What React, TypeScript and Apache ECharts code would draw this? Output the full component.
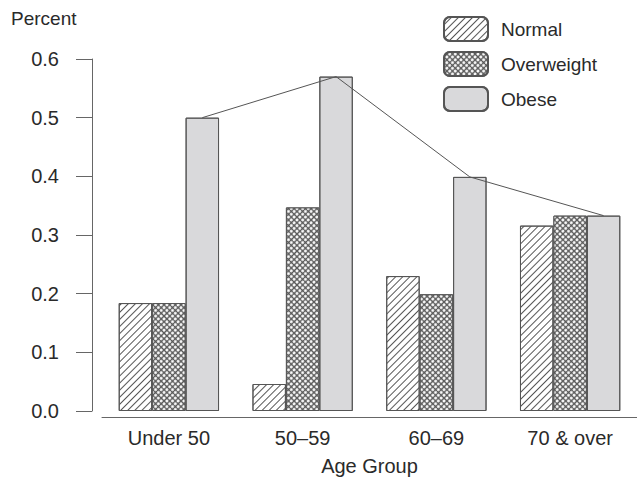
import React, { useEffect, useRef } from "react";
import * as echarts from "echarts";

const categories = ["Under 50", "50–59", "60–69", "70 & over"];
const normalValues = [0.184, 0.046, 0.23, 0.316];
const overweightValues = [0.184, 0.347, 0.199, 0.333];
const obeseValues = [0.5, 0.57, 0.399, 0.333];

const FONT = "'Liberation Sans', Arial, sans-serif";
const TEXT = "#2a2a2a";
const AXIS = "#666";
const EDGE = "#555";
// three bars per category, gap of one bar width → each bar is 1/4 of category
const BAR_GAP = 0.25;
const BAR_FRAC = (1 - BAR_GAP) / 3;
const obeseOffset = BAR_FRAC; // obese bar centre relative to category centre

export default function App() {
  const ref = useRef<HTMLDivElement>(null);
  useEffect(() => {
    const chart = echarts.init(ref.current!, undefined, { renderer: "svg" });
    chart.setOption({
      animation: false,
      aria: { enabled: true, decal: { show: true } },
      textStyle: { fontFamily: FONT },
      grid: { left: 102, top: 59, width: 544, height: 352, containLabel: false },
      graphic: [
        {
          type: "text",
          left: 11,
          top: 9,
          style: { text: "Percent", fontSize: 19, fontFamily: FONT, fill: TEXT },
        },
      ],
      legend: {
        orient: "vertical",
        left: 443,
        top: 16,
        padding: 0,
        itemWidth: 44,
        itemHeight: 24,
        itemGap: 9,
        data: ["Normal", "Overweight", "Obese"],
        textStyle: { fontSize: 19, color: TEXT, fontFamily: FONT, padding: [0, 0, 0, 8] },
      },
      xAxis: [
        {
          type: "category",
          data: categories,
          offset: 6,
          axisLine: { onZero: false, lineStyle: { color: AXIS, width: 1 } },
          axisTick: { alignWithLabel: true, length: 10, lineStyle: { color: AXIS } },
          axisLabel: { fontSize: 20, color: TEXT, margin: 11, fontFamily: FONT },
          name: "Age Group",
          nameLocation: "middle",
          nameGap: 39,
          nameTextStyle: { fontSize: 20, color: TEXT, fontFamily: FONT },
        },
        { type: "value", min: -0.5, max: 3.5, show: false },
      ],
      yAxis: {
        type: "value",
        min: 0,
        max: 0.6,
        interval: 0.1,
        offset: 10,
        splitLine: { show: false },
        axisLine: { show: true, onZero: false, lineStyle: { color: AXIS, width: 1 } },
        axisTick: { show: true, length: 16, lineStyle: { color: AXIS } },
        axisLabel: {
          fontSize: 20,
          color: TEXT,
          margin: 33,
          fontFamily: FONT,
          formatter: (v: number) => v.toFixed(1),
        },
      },
      series: [
        {
          name: "Normal",
          type: "bar",
          data: normalValues,
          barGap: "0%",
          barCategoryGap: BAR_GAP * 100 + "%",
          itemStyle: {
            color: "#ffffff",
            borderColor: EDGE,
            borderWidth: 1,
            decal: {
              symbol: "rect",
              symbolSize: 1,
              color: "#555",
              dashArrayX: [1, 0],
              dashArrayY: [1, 4],
              rotation: -Math.PI / 4,
            },
          },
        },
        {
          name: "Overweight",
          type: "bar",
          data: overweightValues,
          barGap: "0%",
          itemStyle: {
            color: "#5a5a5a",
            borderColor: EDGE,
            borderWidth: 1,
            decal: {
              symbol: "circle",
              symbolSize: 1,
              color: "#ffffff",
              dashArrayX: [3, 1],
              dashArrayY: [3, 1],
              rotation: Math.PI / 4,
            },
          },
        },
        {
          name: "Obese",
          type: "bar",
          data: obeseValues,
          barGap: "0%",
          itemStyle: {
            color: "#d9d9db",
            borderColor: EDGE,
            borderWidth: 1,
            decal: {
              symbol: "rect",
              color: "rgba(0,0,0,0)",
              dashArrayX: [1, 0],
              dashArrayY: [1, 0],
            },
          },
        },
        {
          name: "trend",
          type: "line",
          xAxisIndex: 1,
          data: obeseValues.map((v, i) => [i + obeseOffset, v]),
          symbol: "none",
          lineStyle: { color: "#555", width: 1 },
          z: 5,
        },
      ],
    });
    return () => chart.dispose();
  }, []);
  return <div ref={ref} style={{ width: 637, height: 483, position: "absolute", left: 0, top: 0 }} />;
}
